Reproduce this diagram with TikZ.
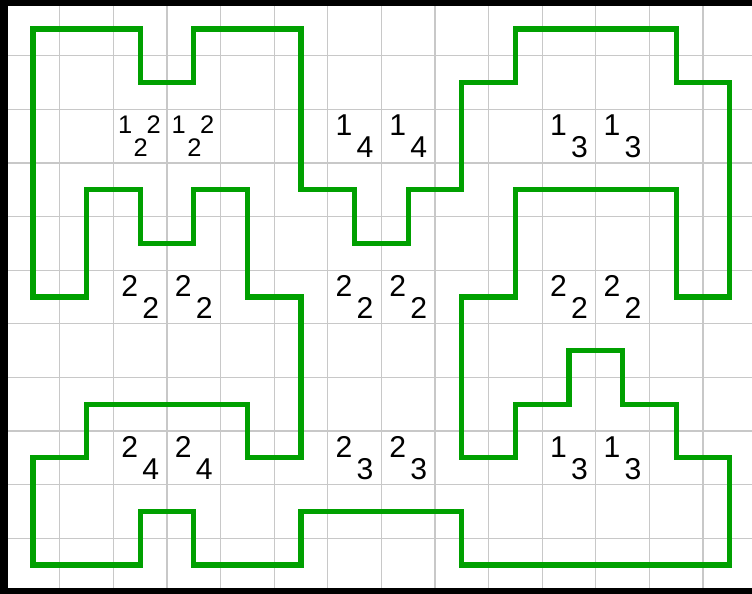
\documentclass[tikz,border=0pt]{standalone}
\usepackage{fontspec}
\setmainfont{Liberation Sans}
\definecolor{wallgreen}{RGB}{0,160,0}
\definecolor{gridgray}{RGB}{200,200,200}

\begin{document}
\begin{tikzpicture}[
    digit/.style={inner sep=0pt, font=\fontsize{16}{16}\selectfont},
    smalldigit/.style={inner sep=0pt, font=\fontsize{13.5}{13.5}\selectfont}
  ]
    \useasboundingbox (-0.616,-0.541) rectangle (13.414,10.541);

    % Grid (lines between the lattice points)
    \draw[gridgray, line width=0.6pt, shift={(-0.5,-0.5)}] (0,0) grid (13.91,11);

    % Boundary
    \draw[wallgreen, line width=2.8pt, line join=miter]
      (0,5) -- (0,10) -- (2,10) -- (2,9) -- (3,9) -- (3,10) -- (5,10) -- (5,7)
      -- (6,7) -- (6,6) -- (7,6) -- (7,7) -- (8,7) -- (8,9) -- (9,9) -- (9,10)
      -- (12,10) -- (12,9) -- (13,9) -- (13,5) -- (12,5) -- (12,7) -- (9,7)
      -- (9,5) -- (8,5) -- (8,2) -- (9,2) -- (9,3) -- (10,3) -- (10,4) -- (11,4)
      -- (11,3) -- (12,3) -- (12,2) -- (13,2) -- (13,0) -- (8,0) -- (8,1)
      -- (5,1) -- (5,0) -- (3,0) -- (3,1) -- (2,1) -- (2,0) -- (0,0) -- (0,2)
      -- (1,2) -- (1,3) -- (4,3) -- (4,2) -- (5,2) -- (5,5) -- (4,5) -- (4,7)
      -- (3,7) -- (3,6) -- (2,6) -- (2,7) -- (1,7) -- (1,5) -- cycle;

    % Labels: value with lowered index
    \foreach \x/\y/\a/\b [count=\i] in {6/8/1/4, 7/8/1/4, 10/8/1/3, 11/8/1/3,
        2/5/2/2, 3/5/2/2, 6/5/2/2, 7/5/2/2, 10/5/2/2, 11/5/2/2,
        2/2/2/4, 3/2/2/4, 6/2/2/3, 7/2/2/3, 10/2/1/3, 11/2/1/3} {
      \node[digit] (val\i) at (\x-0.196,\y+0.205) {\a};
      \node[digit] (idx\i) at (\x+0.196,\y-0.205) {\b};
    }

    % Labels with index and exponent
    \foreach \x [count=\i] in {2,3} {
      \node[smalldigit] (pval\i) at (\x-0.28,8.21) {1};
      \node[smalldigit] (pidx\i) at (\x+0.01,7.795) {2};
      \node[smalldigit] (pexp\i) at (\x+0.25,8.215) {2};
    }

    % Frame
    \fill[black] (-0.616,-0.541) rectangle (-0.467,10.541);
    \fill[black] (-0.616,10.43) rectangle (13.414,10.541);
    \fill[black] (-0.616,-0.541) rectangle (13.414,-0.42);
\end{tikzpicture}
\end{document}
